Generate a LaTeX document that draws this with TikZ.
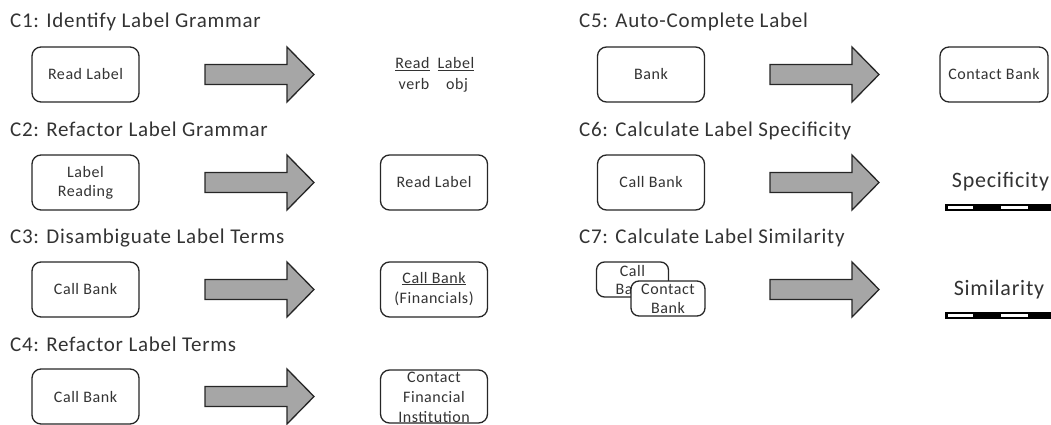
\documentclass[tikz,border=0pt]{standalone}
\usepackage{fontspec}
\setmainfont{Carlito}[LetterSpace=3.5]
\definecolor{txt}{HTML}{333333}
\definecolor{arrowgray}{HTML}{A6A6A6}
\tikzset{
  box/.style={draw=black!85, fill=white, rounded corners=9pt, line width=1.3pt,
    minimum width=107pt, minimum height=55pt, inner sep=0pt, align=center,
    text=txt, font=\fontsize{16}{19}\selectfont},
  smallbox/.style={box, minimum width=72pt, minimum height=35pt, rounded corners=8pt},
  title/.style={anchor=base west, inner sep=0pt, text=txt, font=\fontsize{21}{25}\selectfont},
  lbl/.style={anchor=base, inner sep=0pt, text=txt, font=\fontsize{16}{19}\selectfont},
  biglbl/.style={anchor=base, inner sep=0pt, text=txt, font=\fontsize{22}{26}\selectfont},
  arrowshape/.style={draw=black!85, fill=arrowgray, line width=1.3pt, line join=miter},
}
\newcommand\bigarrow[2]{\draw[arrowshape] (#1,#2-10) -- ++(82,0) -- ++(0,-17.5) -- ++(27,27.5) -- ++(-27,27.5) -- ++(0,-17.5) -- ++(-82,0) -- cycle;}
\newcommand\scalebar[2]{%
  \fill[black] (#1,#2-3.5) rectangle (1060,#2+3.5);
  \fill[white] (#1+2.5,#2-1.5) rectangle (#1+28,#2+1.5);
  \fill[white] (#1+56,#2-1.5) rectangle (#1+83,#2+1.5);
}
\begin{document}
\begin{tikzpicture}[x=1pt,y=-1pt]
\useasboundingbox (0,0) rectangle (1051,425);
% Titles
\node[title] (t1) at (10,28) {C1: Identify Label Grammar};
\node[title] (t2) at (10,136) {C2: Refactor Label Grammar};
\node[title] (t3) at (10,243) {C3: Disambiguate Label Terms};
\node[title] (t4) at (10,351) {C4: Refactor Label Terms};
\node[title] (t5) at (579,28) {C5: Auto-Complete Label};
\node[title] (t6) at (579,136) {C6: Calculate Label Specificity};
\node[title] (t7) at (579,243) {C7: Calculate Label Similarity};
% C1
\node[box] (s1) at (85.5,74.5) {Read Label};
\bigarrow{205}{74.5}
\node[lbl] (r1) at (412.5,69) {\underline{Read}};
\node[lbl] (r2) at (456,69) {\underline{Label}};
\node[lbl] (r3) at (414,90) {verb};
\node[lbl] (r4) at (457,90) {obj};
% C2
\node[box] (s2) at (85.5,182.5) {Label\\Reading};
\bigarrow{205}{182.5}
\node[box] (g2) at (434,182.5) {Read Label};
% C3
\node[box] (s3) at (85.5,289.5) {Call Bank};
\bigarrow{205}{289.5}
\node[box] (g3) at (434,289.5) {};
\node[lbl] (g3a) at (434,283) {\underline{Call Bank}};
\node[lbl] (g3b) at (434,303) {(Financials)};
% C4
\node[box] (s4) at (85.5,396.5) {Call Bank};
\bigarrow{205}{396.5}
\node[box, minimum height=53pt] (g4) at (434,396.5) {};
\node[lbl] (g4a) at (434,382) {Contact};
\node[lbl] (g4b) at (434,402) {Financial};
\node[lbl] (g4c) at (434,422) {Institution};
% C5
\node[box] (s5) at (651,74.5) {Bank};
\bigarrow{770}{74.5}
\node[box, minimum width=108pt] (g5) at (994,74.5) {Contact Bank};
% C6
\node[box] (s6) at (651,182.5) {Call Bank};
\bigarrow{770}{182.5}
\node[biglbl] (g6) at (1000.5,187) {Specificity};
\scalebar{945}{207}
% C7
\node[smallbox] (s7a) at (632.5,279.5) {};
\node[lbl] (s7a1) at (632.5,276) {Call};
\node[lbl] (s7a2) at (632.5,294) {Bank};
\node[smallbox, minimum width=74pt] (s7b) at (668,298.5) {Contact\\Bank};
\bigarrow{770}{289.5}
\node[biglbl] (g7) at (999,295) {Similarity};
\scalebar{945}{315}
\end{tikzpicture}
\end{document}
